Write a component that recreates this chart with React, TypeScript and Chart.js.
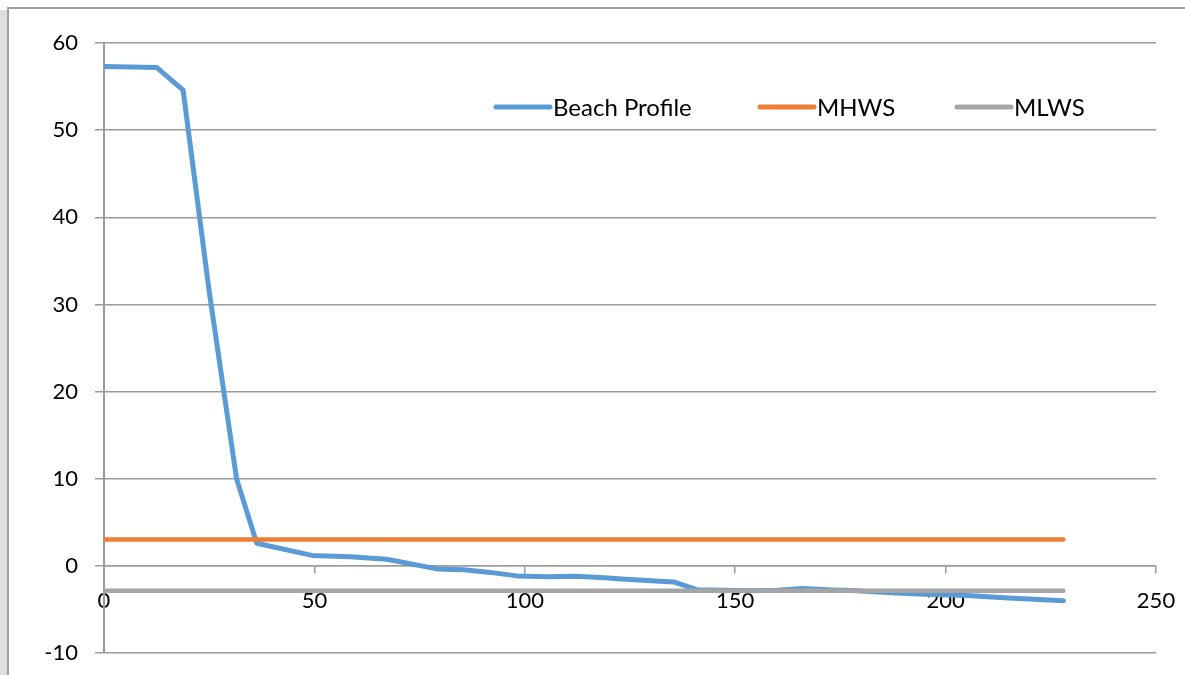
import React, { useEffect, useRef } from "react";
import { Chart, registerables } from "chart.js";

Chart.register(...registerables);

// Beach profile: distance (m) vs height
const profileX = [0, 12.5, 18.8, 25, 31.5, 36.3, 49.4, 58.5, 67.2, 79.1, 85.5, 91.8, 98.1, 105.3, 112, 118, 124, 130, 135.4, 141, 147, 153, 160, 166, 172, 179, 187, 195, 205, 215, 228];
const profileY = [57.3, 57.2, 54.6, 31.5, 10, 2.6, 1.2, 1.05, 0.75, -0.35, -0.45, -0.75, -1.15, -1.25, -1.2, -1.35, -1.55, -1.7, -1.85, -2.75, -2.8, -2.85, -2.8, -2.6, -2.75, -2.85, -3.1, -3.25, -3.4, -3.7, -4.0];

const mhwsX = [0, 228];
const mhwsY = [3.03, 3.03];
const mlwsX = [0, 228];
const mlwsY = [-2.85, -2.85];

const seriesLabels = ["Beach Profile", "MHWS", "MLWS"];
const seriesColors = ["#5B9BD5", "#ED7D31", "#A5A5A5"];

const xTicks = [0, 50, 100, 150, 200, 250];
const yTicks = [-10, 0, 10, 20, 30, 40, 50, 60];

const FONT = "Lato, 'Open Sans', sans-serif";
const GRID = "#9b9b9b";

const toPoints = (xs: number[], ys: number[]) => xs.map((x, i) => ({ x, y: ys[i] }));

const LEGEND_STARTS = [494, 758, 955];

const insideLegend = {
  id: "insideLegend",
  afterDatasetsDraw(chart: any) {
    const ctx = chart.ctx;
    ctx.save();
    ctx.font = `24px ${FONT}`;
    ctx.textBaseline = "middle";
    ctx.textAlign = "left";
    const y = 107;
    const lineLen = 58;
    chart.data.datasets.forEach((ds: any, i: number) => {
      const x = LEGEND_STARTS[i];
      ctx.strokeStyle = ds.borderColor;
      ctx.lineWidth = 5;
      ctx.lineCap = "round";
      ctx.beginPath();
      ctx.moveTo(x + 2, y);
      ctx.lineTo(x + lineLen - 2, y);
      ctx.stroke();
      ctx.fillStyle = "#000";
      ctx.fillText(ds.label, x + lineLen + 1, y + 1);
    });
    ctx.restore();
  },
};

export default function App() {
  const ref = useRef<HTMLCanvasElement | null>(null);

  useEffect(() => {
    if (!ref.current) return;
    const chart = new Chart(ref.current, {
      type: "line",
      data: {
        datasets: [
          {
            label: seriesLabels[0],
            data: toPoints(profileX, profileY),
            borderColor: seriesColors[0],
            backgroundColor: seriesColors[0],
            borderWidth: 5,
            pointRadius: 0,
            tension: 0,
            borderJoinStyle: "round",
            borderCapStyle: "round",
            order: 3,
          },
          {
            label: seriesLabels[1],
            data: toPoints(mhwsX, mhwsY),
            borderColor: seriesColors[1],
            backgroundColor: seriesColors[1],
            borderWidth: 4.5,
            pointRadius: 0,
            borderCapStyle: "round",
            order: 2,
          },
          {
            label: seriesLabels[2],
            data: toPoints(mlwsX, mlwsY),
            borderColor: seriesColors[2],
            backgroundColor: seriesColors[2],
            borderWidth: 4.5,
            pointRadius: 0,
            borderCapStyle: "round",
            order: 1,
          },
        ],
      },
      options: {
        responsive: false,
        animation: false,
        layout: { padding: { left: 0, top: 43, right: 29, bottom: 22 } },
        plugins: { legend: { display: false }, tooltip: { enabled: false } },
        scales: {
          x: {
            type: "linear",
            min: 0,
            max: 250,
            position: { y: 0 } as any,
            afterFit: (s: any) => {
              s.height = 0;
              s.paddingLeft = 0;
              s.paddingRight = 0;
              s.paddingTop = 0;
              s.paddingBottom = 0;
            },
            afterBuildTicks: (s: any) => {
              s.ticks = xTicks.map((v) => ({ value: v }));
            },
            ticks: {
              font: { family: FONT, size: 22 },
              color: "#000",
              padding: 15,
              maxRotation: 0,
              autoSkip: false,
            },
            grid: { drawOnChartArea: false, drawTicks: true, tickLength: 7, color: GRID, lineWidth: 1.5 },
            border: { color: GRID, width: 1.5 },
          },
          y: {
            type: "linear",
            min: -10,
            max: 60,
            afterFit: (s: any) => {
              s.width = 104;
              s.paddingLeft = 0;
              s.paddingRight = 0;
              s.paddingTop = 0;
              s.paddingBottom = 0;
            },
            afterBuildTicks: (s: any) => {
              s.ticks = yTicks.map((v) => ({ value: v }));
            },
            ticks: {
              font: { family: FONT, size: 22 },
              color: "#000",
              padding: 17,
            },
            grid: { color: GRID, lineWidth: 1.5, tickLength: 9 },
            border: { color: GRID, width: 2 },
          },
        },
      },
      plugins: [insideLegend],
    });
    return () => chart.destroy();
  }, []);

  return (
    <div style={{ position: "fixed", left: 0, top: 0, width: 1185, height: 675, background: "#fff", overflow: "hidden" }}>
      <div style={{ position: "absolute", left: 0, top: 10, width: 7, height: 665, background: "#dedede" }} />
      <div
        style={{
          position: "absolute",
          left: 7,
          top: 7,
          width: 1178,
          height: 668,
          borderTop: "2px solid #a0a0a0",
          borderLeft: "2px solid #a0a0a0",
          boxSizing: "border-box",
        }}
      />
      <canvas ref={ref} width={1185} height={675} style={{ position: "absolute", left: 0, top: 0 }} />
    </div>
  );
}
